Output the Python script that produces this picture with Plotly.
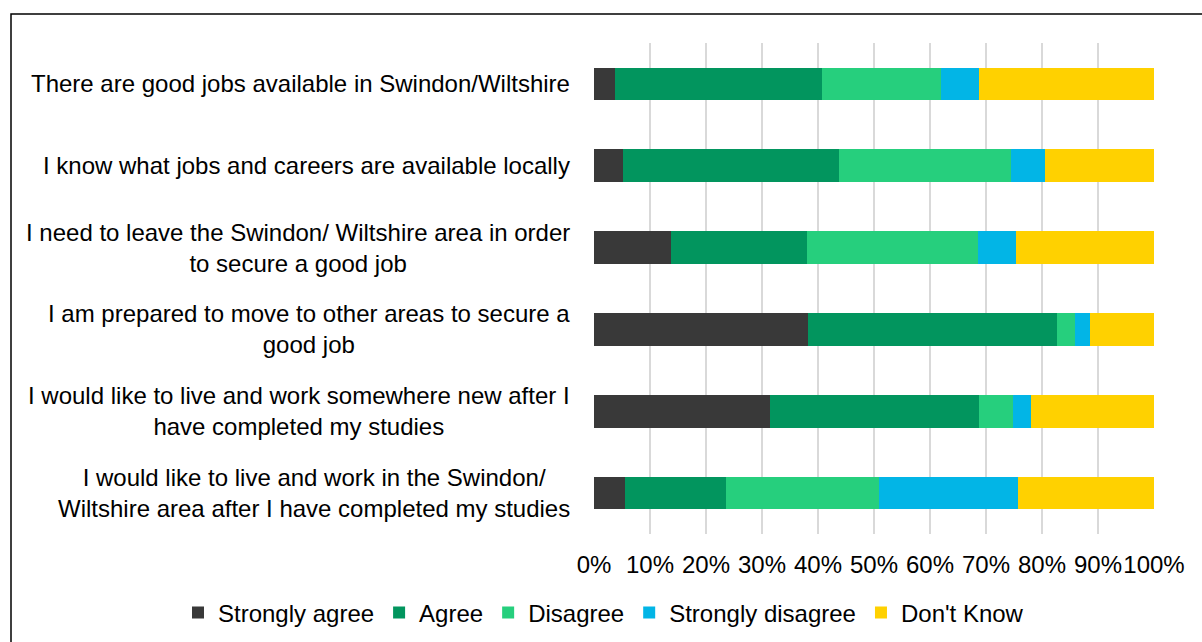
import plotly.graph_objects as go

categories = [
    "There are good jobs available in Swindon/Wiltshire",
    "I know what jobs and careers are available locally",
    "I need to leave the Swindon/ Wiltshire area in order<br>to secure a good job",
    "I am prepared to move to other areas to secure a<br>good job",
    "I would like to live and work somewhere new after I<br>have completed my studies",
    "I would like to live and work in the Swindon/<br>Wiltshire area after I have completed my studies",
]
category_ids = ["Q1", "Q2", "Q3", "Q4", "Q5", "Q6"]

strongly_agree = [3.7, 5.1, 13.7, 38.3, 31.4, 5.5]
agree = [37.0, 38.7, 24.3, 44.4, 37.4, 18.0]
disagree = [21.3, 30.6, 30.5, 3.2, 6.0, 27.4]
strongly_disagree = [6.8, 6.1, 6.8, 2.7, 3.3, 24.9]
dont_know = [31.2, 19.5, 24.7, 11.4, 21.9, 24.2]

series_names = ["Strongly agree", "Agree", "Disagree", "Strongly disagree", "Don't Know"]
series_values = [strongly_agree, agree, disagree, strongly_disagree, dont_know]
series_colors = ["#393939", "#02955E", "#26CF7D", "#02B5E6", "#FFD100"]

tick_vals = [0, 10, 20, 30, 40, 50, 60, 70, 80, 90, 100]
tick_text = [f"{v}%" for v in tick_vals]

FONT = "Liberation Sans, Arial, sans-serif"
FS = 24

fig = go.Figure()
for name, vals, col in zip(series_names, series_values, series_colors):
    fig.add_trace(go.Bar(
        y=category_ids, x=vals, name=name, orientation="h",
        marker=dict(color=col, line=dict(width=0)),
    ))

for cid, label in zip(category_ids, categories):
    fig.add_annotation(
        x=0, xref="paper", y=cid, yref="y", text=label,
        xanchor="right", yanchor="middle", align="center",
        xshift=-22, showarrow=False,
        font=dict(family=FONT, size=FS, color="#000000"),
    )

W, H = 1202, 642
L, R, T, B = 594, 48, 43, 108
pw, ph = W - L - R, H - T - B

def px_to_paper_x(px):
    return (px - L) / pw

def px_to_paper_y(py):
    return (H - B - py) / ph

fig.add_shape(
    type="rect", xref="paper", yref="paper",
    x0=px_to_paper_x(11), x1=px_to_paper_x(1210),
    y0=px_to_paper_y(650), y1=px_to_paper_y(14),
    line=dict(color="#000000", width=1.5), fillcolor="rgba(0,0,0,0)", layer="above",
)

fig.update_layout(
    width=W, height=H,
    margin=dict(l=L, r=R, t=T, b=B, autoexpand=False),
    barmode="stack", bargap=0.6,
    paper_bgcolor="white", plot_bgcolor="white",
    font=dict(family=FONT, size=FS, color="#000000"),
    xaxis=dict(
        range=[0, 100], tickvals=tick_vals, ticktext=tick_text,
        tickangle=0,
        showgrid=True, gridcolor="#D9D9D9", gridwidth=1.5,
        zeroline=False, showline=False,
        ticks="", ticklabelstandoff=14,
        tickfont=dict(family=FONT, size=FS, color="#000000"),
        fixedrange=True,
    ),
    yaxis=dict(
        categoryorder="array", categoryarray=category_ids,
        autorange="reversed", showticklabels=False,
        showgrid=False, zeroline=False, showline=False, fixedrange=True,
    ),
    legend=dict(
        orientation="h", xref="paper", yref="paper",
        x=px_to_paper_x(178), xanchor="left",
        y=px_to_paper_y(613), yanchor="middle",
        font=dict(family=FONT, size=FS, color="#000000"),
        itemwidth=30, traceorder="normal",
    ),
    showlegend=True,
)

fig.write_html(
    "out.html",
    config={"displayModeBar": False},
    post_script="document.body.style.margin='0px';document.body.style.overflow='hidden';",
)
